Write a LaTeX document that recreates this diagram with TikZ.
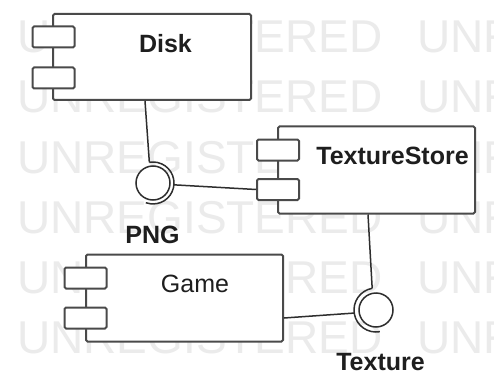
\documentclass[tikz,border=0pt]{standalone}
\usepackage{fontspec}
\setmainfont{Liberation Sans}
\usetikzlibrary{calc}
\definecolor{wmgray}{HTML}{EBEBEB}
\definecolor{edgecol}{HTML}{4A4A4A}
\definecolor{wirecol}{HTML}{2E2E2E}
\definecolor{txtcol}{HTML}{1E1E1E}
\begin{document}
\begin{tikzpicture}[x=1pt,y=-1pt,
  box/.style={draw=edgecol,line width=2pt,fill=white,rounded corners=1.5pt,inner sep=0pt,minimum width=197pt,minimum height=87pt},
  port/.style={draw=edgecol,line width=2pt,fill=white,rounded corners=1.5pt,inner sep=0pt,minimum width=42pt,minimum height=21pt},
  lbl/.style={font=\fontsize{25}{30}\selectfont\bfseries,inner sep=0pt,text=txtcol},
  lblreg/.style={font=\fontsize{25}{30}\selectfont,inner sep=0pt,text=txtcol},
  ball/.style={circle,draw=wirecol,line width=1.5pt,fill=white,minimum size=34pt,inner sep=0pt},
  sock/.style={draw=wirecol,line width=1.5pt},
  link/.style={draw=wirecol,line width=1.5pt},
  wm/.style={font=\fontsize{46}{50}\selectfont,text=wmgray,inner sep=0pt,anchor=base west}]
\useasboundingbox[fill=white] (0,0) rectangle (494,374);
% watermark
\begin{scope}
\clip (0,0) rectangle (494,374);
\foreach \k in {0,...,5} {
  \node[wm] (wma\k) at (17,{53+60*\k}) {UNREGISTERED};
  \node[wm] (wmb\k) at (417,{53+60*\k}) {UNR};
}
\end{scope}
% Disk
\node[box,minimum width=198pt,minimum height=86pt] (disk) at (152,57) {};
\node[port] (diskpa) at (53.5,37) {};
\node[port] (diskpb) at (53.5,78) {};
\node[lbl] (disklbl) at (165.5,44) {Disk};
% TextureStore
\node[box] (store) at (376.5,170) {};
\node[port] (storepa) at (278,150) {};
\node[port] (storepb) at (278,189.5) {};
\node[lbl] (storelbl) at (392.5,156) {TextureStore};
% Game
\node[box] (game) at (184.5,298) {};
\node[port] (gamepa) at (85.5,278) {};
\node[port] (gamepb) at (85.5,318) {};
\node[lblreg] (gamelbl) at (195,283.5) {Game};
% interfaces
\node[ball] (pngball) at (153,183) {};
\node[ball] (texball) at (376,310) {};
\path (pngball.center) ++(-100:21) coordinate (pngtop);
\path (pngball.center) ++(5:21) coordinate (pngright);
\draw[sock] (pngtop) arc[start angle=-100,end angle=110,radius=21];
\path (texball.center) ++(-100:22) coordinate (textop);
\path (texball.center) ++(172:22) coordinate (texleft);
\draw[sock] (textop) arc[start angle=-100,end angle=-280,radius=22];
% connectors
\draw[link] ([xshift=-7pt]disk.south) -- (pngtop);
\draw[link] (pngright) -- (storepb.west);
\draw[link] ([xshift=-8.5pt]store.south) -- (textop);
\draw[link] ($(game.east)+(0,20)$) -- (texleft);
% labels
\node[lbl] (pnglbl) at (152.5,235) {PNG};
\node[lbl] (texlbl) at (380.5,362) {Texture};
\end{tikzpicture}
\end{document}
